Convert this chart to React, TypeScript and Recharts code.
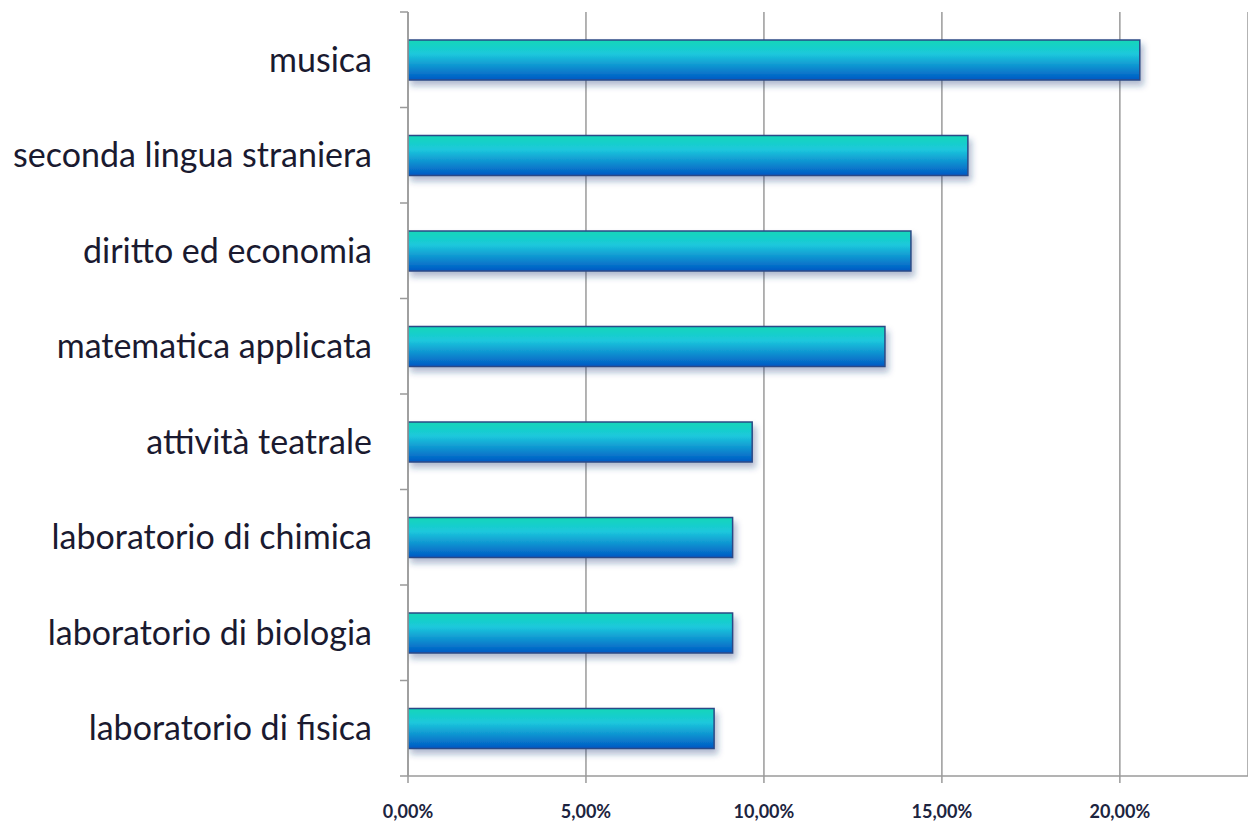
import { Bar, BarChart, CartesianGrid, XAxis, YAxis } from "recharts";

const subjects = [
  "musica",
  "seconda lingua straniera",
  "diritto ed economia",
  "matematica applicata",
  "attività teatrale",
  "laboratorio di chimica",
  "laboratorio di biologia",
  "laboratorio di fisica"
];

const shares = [0.2056, 0.1573, 0.1413, 0.134, 0.0967, 0.0912, 0.0912, 0.086];

const percentTicks = [0, 0.05, 0.1, 0.15, 0.2];
const bandTicks = [0, 1, 2, 3, 4, 5, 6, 7, 8];

// slot = centre of each category band, used by the hidden boundary-tick axis
const rows = subjects.map((subject, i) => ({ subject, share: shares[i], slot: i + 0.5 }));

function formatPercent(value: number) {
  return `${(value * 100).toFixed(2).replace(".", ",")}%`;
}

export default function App() {
  return (
    <div style={{ position: "absolute", left: 0, top: 0, background: "#fff" }}>
      <BarChart
        width={1248}
        height={823}
        data={rows}
        layout="vertical"
        margin={{ top: 12, right: 0, left: 0, bottom: 0 }}
      >
        <defs>
          <linearGradient id="barFill" x1="0" y1="0" x2="0" y2="1">
            <stop offset="0%" stopColor="#12d6b8" />
            <stop offset="35%" stopColor="#1cc8dc" />
            <stop offset="100%" stopColor="#0058c4" />
          </linearGradient>
          <filter id="barShadow" x="-5%" y="-30%" width="115%" height="180%">
            <feDropShadow dx="3" dy="5" stdDeviation="3" floodColor="#1f3c7a" floodOpacity="0.35" />
          </filter>
        </defs>
        <CartesianGrid horizontal={false} stroke="#9a9a9a" strokeWidth={1.5} />
        <XAxis
          type="number"
          domain={[0, 0.236]}
          ticks={percentTicks}
          tickFormatter={formatPercent}
          allowDataOverflow
          height={47}
          stroke="#9a9a9a"
          strokeWidth={1.5}
          tickSize={7}
          tickMargin={22}
          tick={{ fill: "#1c2440", fontSize: 18, fontWeight: 700, fontFamily: "Lato, 'Open Sans', sans-serif" }}
        />
        <YAxis
          yAxisId="cat"
          type="category"
          dataKey="subject"
          width={407}
          axisLine={false}
          tickLine={false}
          tickMargin={29}
          interval={0}
          tick={{ fill: "#1a1a30", fontSize: 34, fontFamily: "Lato, 'Open Sans', sans-serif" }}
        />
        <YAxis
          yAxisId="band"
          type="number"
          dataKey="slot"
          domain={[0, 8]}
          ticks={bandTicks}
          allowDataOverflow
          interval={0}
          width={1}
          tickFormatter={() => ""}
          stroke="#9a9a9a"
          strokeWidth={1.5}
          tickSize={8}
        />
        <Bar
          yAxisId="cat"
          dataKey="share"
          barSize={40}
          fill="url(#barFill)"
          stroke="#2b4a86"
          strokeWidth={1.5}
          filter="url(#barShadow)"
          isAnimationActive={false}
        />
      </BarChart>
    </div>
  );
}
